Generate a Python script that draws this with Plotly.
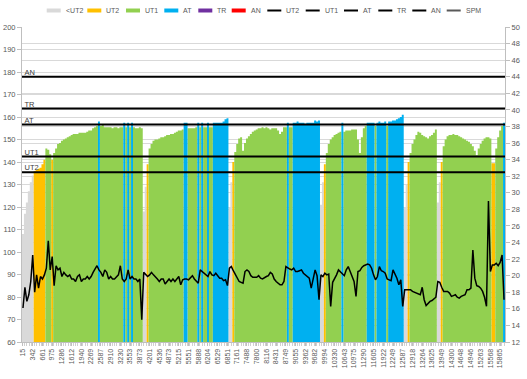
import plotly.graph_objects as go

# ---------------- data ----------------
x_labels = ["15", "342", "661", "975", "1286", "1612", "1940", "2269", "2587", "2910",
            "3230", "3553", "3873", "4201", "4536", "4873", "5215", "5551", "5888", "6204",
            "6529", "6851", "7161", "7488", "7800", "8116", "8431", "8749", "9055", "9362",
            "9682", "9994", "10330", "10643", "10975", "11290", "11605", "11922", "12249", "12587",
            "12918", "13264", "13625", "13949", "14300", "14648", "14946", "15263", "15568", "15865"]

hr = [
    108, 117, 122, 127, 131, 134,
    136, 136.5, 137, 137.5, 139, 141,
    146, 145.5, 143.5,
    141,
    144, 146, 148, 148.5, 149.5, 150, 150.5, 151, 151.5, 152, 152.5, 152.5, 152.5, 153, 153, 153, 153, 153.5, 154, 154, 155, 155.5, 156,
    158,
    156, 156.5, 155.5, 155.5, 155.5, 155.5, 155, 155.5, 155.5, 155, 155.5, 155.5,
    157.5, 155.5, 157.5, 155.5, 157.5,
    155.5, 155, 155, 155.5, 155,
    118, 129,
    139,
    146, 148, 149.5, 150, 150, 150.5, 151, 151, 151.5, 152, 152, 152.5, 152.5, 153, 153.5, 154, 154, 154.5,
    157.5, 157.5,
    155, 155, 155, 155, 155.5,
    157.5, 155.5, 157.5, 155.5, 155.5, 157.5, 155.5, 155.5,
    157.5, 157.5, 157.5, 157.5, 157.5, 158, 159, 159.5,
    120, 131,
    140,
    144.5, 148, 150.5, 151, 145, 148.5, 150.5, 151.5, 152.5, 153.5, 154, 154.5, 155, 155, 155.5, 155, 155.5, 155, 154.5, 155, 155, 155, 154, 152.5, 153.5, 155.5, 155.5,
    157.5,
    155.5, 155.5,
    157.5, 157.5, 158, 157.5, 157.5, 157.5, 157, 157.5, 157.5, 157.5, 157.5, 158.5, 158, 158.5,
    121, 131,
    139,
    144, 148, 150, 151, 152, 152.5, 153, 153.5,
    157.5,
    153.5, 154, 154, 154, 154.5, 154.5, 154.5, 150, 144, 151, 155, 156,
    157.5, 157.5, 157.5, 157.5,
    156,
    157.5, 158, 157.5, 157.5, 158,
    156,
    158, 158, 158.5, 158.5, 159, 159.5, 160, 161,
    120, 130,
    140,
    144, 148, 150, 152, 153.5, 153, 152, 151.5, 151, 150.5, 151.5, 152, 153, 154.5,
    122, 131,
    140,
    147, 150, 151.5, 152, 152, 152.5, 152, 152, 151.5, 151, 150.5, 150, 149.5, 149, 148, 147, 145, 143, 146, 148, 149.5, 150.5, 151, 151, 150.5,
    139.5, 139.5,
    146, 151, 154, 156,
    157.5,
]

spm = [
    16.1, 18.6, 16.9, 17.7, 19.3, 22.5, 18.0, 20.1, 18.5, 19.9,
    19.6, 20.1, 20.9, 24.2, 20.7, 22.3, 18.8, 21.2, 20.7, 20.9,
    19.9, 20.4, 20.1, 19.9, 20.1, 19.6, 19.6, 19.3, 19.9, 20.1,
    19.3, 19.6, 19.6, 19.9, 19.6, 19.9, 20.4, 20.9, 21.2, 20.7,
    20.4, 19.9, 20.7, 20.4, 19.6, 19.9, 19.6, 19.6, 19.9, 20.1,
    21.2, 19.6, 19.3, 19.6, 20.7, 19.6, 19.9, 19.6, 19.6, 19.3,
    19.6, 14.7, 20.4, 20.1, 19.9, 20.1, 20.4, 20.1, 19.9, 19.6,
    19.3, 19.6, 19.6, 19.0, 19.3, 19.6, 19.3, 19.6, 19.3, 19.6,
    19.9, 18.9, 19.5, 19.6, 19.6, 19.5, 19.8, 20.0, 19.6, 19.4,
    19.1, 20.7, 20.5, 20.3, 20.1, 19.9, 20.5, 20.1, 20.0, 20.3,
    20.0, 19.7, 19.7, 19.4, 19.5, 18.8, 20.9, 21.1, 20.6, 20.2,
    19.7, 19.3, 19.2, 19.1, 20.5, 20.7, 20.5, 20.0, 19.8, 19.8,
    19.8, 20.0, 19.7, 19.6, 19.8, 19.9, 20.0, 20.4, 20.2, 19.6,
    19.3, 19.1, 18.9, 18.9, 19.3, 21.1, 20.9, 20.8, 20.7, 20.9,
    20.5, 20.5, 20.6, 20.7, 20.3, 20.1, 19.9, 19.7, 18.5, 19.8,
    20.7, 20.0, 17.1, 20.1, 19.9, 20.3, 20.1, 20.2, 16.3, 19.2,
    19.6, 20.1, 20.7, 20.5, 20.2, 20.0, 20.7, 21.1, 20.5, 19.8,
    19.3, 17.5, 20.5, 20.6, 21.0, 21.2, 21.3, 21.4, 21.3, 20.9,
    20.1, 19.5, 19.9, 21.1, 20.6, 20.5, 20.3, 19.6, 19.5, 19.4,
    20.7, 20.2, 19.7, 18.9, 19.5, 16.3, 18.3, 18.3, 18.3, 18.3,
    18.1, 18.0, 17.9, 17.8, 17.7, 18.6, 17.1, 16.4, 16.7, 16.9,
    17.0, 17.2, 17.4, 19.3, 19.2, 18.6, 18.1, 18.1, 18.1, 17.9,
    17.5, 17.6, 17.7, 17.4, 17.3, 17.5, 17.6, 17.7, 18.3, 18.3,
    18.5, 23.1, 19.7, 18.8, 18.7, 18.5, 18.1, 17.4, 16.3, 29.0,
    20.5, 21.3, 21.3, 21.5, 21.2, 21.6, 22.5, 17.1,
]

zone_names = ["<UT2", "UT2", "UT1", "AT", "TR", "AN"]
zone_colors = ["#d9d9d9", "#ffc000", "#92d050", "#00b0f0", "#7030a0", "#ff0000"]
thr_names = ["UT2", "UT1", "AT", "TR", "AN"]
thr_values = [135.5, 142.5, 156.7, 163.8, 177.9]

N = len(hr)
assert len(spm) == N, (len(spm), N)
LABEL_STEP = 5
tickvals = [i * LABEL_STEP for i in range(len(x_labels))]

# ---------------- layout geometry (page pixels) ----------------
W, H = 527, 379
PL, PR, PT, PB = 22, 505, 27, 342
FONT = "Liberation Sans"
TXT = "#595959"


def zone_of(v):
    z = 0
    for k, t in enumerate(thr_values):
        if v >= t:
            z = k + 1
    return z


zones = [zone_of(v) for v in hr]

fig = go.Figure()

# zone areas (step-filled so each sample is a full-height column)
edges = [i - 0.5 for i in range(N + 1)]
for z, (name, color) in enumerate(zip(zone_names, zone_colors)):
    ys = [hr[i] if zones[i] == z else 0 for i in range(N)]
    ys = ys + [ys[-1]]
    fig.add_trace(go.Scatter(
        x=edges, y=ys, mode="lines", name=name,
        line=dict(width=0, shape="hv", color=color),
        fill="tozeroy", fillcolor=color,
        showlegend=False, hoverinfo="skip"))

# threshold lines with labels near the left end
for name, val in zip(thr_names, thr_values):
    fig.add_trace(go.Scatter(
        x=[-0.5, 0.8, N - 0.5], y=[val, val, val], mode="lines+text",
        text=["", name, ""], textposition="top right",
        textfont=dict(family=FONT, size=7.5, color="#404040"),
        line=dict(color="black", width=2), name=name,
        showlegend=False, hoverinfo="skip"))

# SPM line on secondary axis
fig.add_trace(go.Scatter(
    x=list(range(N)), y=spm, yaxis="y2", mode="lines", name="SPM",
    line=dict(color="black", width=1.5), showlegend=False, hoverinfo="skip"))

# ---------------- custom legend ----------------
def px_x(p):
    return (p - PL) / (PR - PL)


def px_y(p):
    return (PB - p) / (PB - PT)


legend_items = [
    ("<UT2", "rect", zone_colors[0], 46.7),
    ("UT2", "rect", zone_colors[1], 87.3),
    ("UT1", "rect", zone_colors[2], 126.0),
    ("AT", "rect", zone_colors[3], 164.3),
    ("TR", "rect", zone_colors[4], 198.3),
    ("AN", "rect", zone_colors[5], 231.7),
    ("UT2", "line", "#000000", 267.3),
    ("UT1", "line", "#000000", 305.7),
    ("AT", "line", "#000000", 344.0),
    ("TR", "line", "#000000", 378.3),
    ("AN", "line", "#000000", 412.3),
    ("SPM", "line", "#595959", 446.7),
]
LEG_Y = 10.5
SW = 14
shapes = []
annotations = []
for label, kind, color, x0 in legend_items:
    if kind == "rect":
        shapes.append(dict(type="rect", xref="paper", yref="paper",
                           x0=px_x(x0), x1=px_x(x0 + SW),
                           y0=px_y(LEG_Y + 2), y1=px_y(LEG_Y - 2),
                           fillcolor=color, line=dict(width=0)))
    else:
        shapes.append(dict(type="line", xref="paper", yref="paper",
                           x0=px_x(x0), x1=px_x(x0 + SW),
                           y0=px_y(LEG_Y), y1=px_y(LEG_Y),
                           line=dict(color=color, width=2)))
    annotations.append(dict(xref="paper", yref="paper", x=px_x(x0 + SW + 3),
                            y=px_y(LEG_Y), text=label, showarrow=False,
                            xanchor="left", yanchor="middle",
                            font=dict(family=FONT, size=7, color=TXT)))

axis_line = "#bfbfbf"
grid = "#d9d9d9"

fig.update_layout(
    width=W, height=H,
    margin=dict(l=PL, r=W - PR, t=PT, b=H - PB, pad=0, autoexpand=False),
    paper_bgcolor="white", plot_bgcolor="white",
    font=dict(family=FONT, size=7, color=TXT),
    showlegend=False,
    shapes=shapes, annotations=annotations,
    xaxis=dict(range=[-0.5, N - 0.5], tickmode="array", tickvals=tickvals,
               ticktext=x_labels, tickangle=-90, showgrid=False, zeroline=False,
               showline=True, linecolor=axis_line, ticks="outside", ticklen=3,
               tickcolor=axis_line, tickfont=dict(size=7, color=TXT),
               minor=dict(ticks="outside", ticklen=3, tick0=-0.5, dtick=1.25,
                          tickcolor="#d0d0d0"),
               automargin=False),
    yaxis=dict(range=[60, 200], dtick=10, showgrid=True, gridcolor=grid,
               gridwidth=1, zeroline=False, showline=True, linecolor=axis_line,
               ticks="outside", ticklen=4, tickcolor=axis_line,
               tickfont=dict(size=7.5, color=TXT), automargin=False),
    yaxis2=dict(range=[12, 50], dtick=2, overlaying="y", side="right",
                showgrid=True, gridcolor=grid, gridwidth=1, zeroline=False,
                showline=True, linecolor=axis_line, ticks="outside", ticklen=4,
                tickcolor=axis_line, tickfont=dict(size=7.5, color=TXT),
                automargin=False),
)

# the page's default 8px body margin would push the figure off its frame
fig.write_html("out.html", config={"displayModeBar": False},
               post_script="document.body.style.margin='0px';"
                           "document.documentElement.style.overflow='hidden';")
